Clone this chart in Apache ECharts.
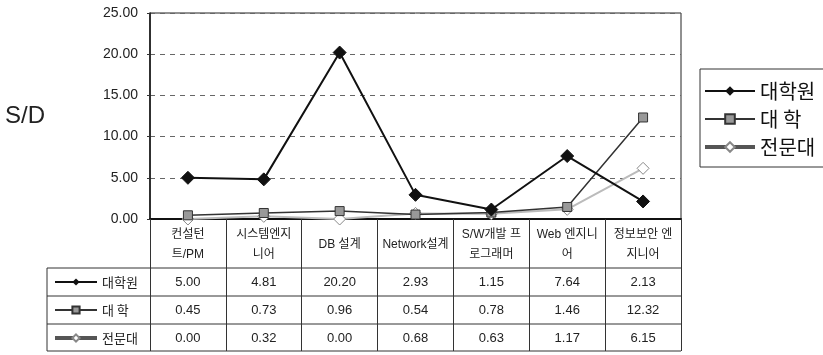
<!DOCTYPE html>
<html>
<head>
<meta charset="utf-8">
<script src="https://cdn.jsdelivr.net/npm/echarts@6/dist/echarts.min.js"></script>
<style>
  html, body { margin: 0; padding: 0; background: #fff; }
  #chart { width: 823px; height: 355px; }
</style>
</head>
<body>
<div id="chart"></div>
<script>
// Job categories (two-line header labels of the data table)
const categories = ['컨설턴\n트/PM', '시스템엔지\n니어', 'DB 설계', 'Network설계', 'S/W개발 프\n로그래머', 'Web 엔지니\n어', '정보보안 엔\n지니어'];
const seriesNames = ['대학원', '대 학', '전문대'];
const graduate   = [5.00, 4.81, 20.20, 2.93, 1.15, 7.64, 2.13];
const university = [0.45, 0.73, 0.96, 0.54, 0.78, 1.46, 12.32];
const college    = [0.00, 0.32, 0.00, 0.68, 0.63, 1.17, 6.15];
const yMin = 0, yMax = 25, yStep = 5;

const LATIN = '"Liberation Sans", Arial, "Noto Sans CJK KR", sans-serif';
const rows = [graduate, university, college];

const chart = echarts.init(document.getElementById('chart'), null, { renderer: 'canvas' });

// Base category axis: header labels, column separators of the table
const xAxes = [{
  type: 'category',
  data: categories,
  position: 'bottom',
  boundaryGap: true,
  axisLine: { show: true, lineStyle: { color: '#111', width: 2 } },
  axisTick: { show: true, interval: 0, length: 132, lineStyle: { color: '#333', width: 1 } },
  axisLabel: {
    interval: 0, margin: 26, verticalAlign: 'middle',
    fontSize: 12, lineHeight: 20, color: '#222', fontFamily: LATIN
  }
}];
// One hidden axis per table row, each printing that row's values under its category
const rowMargins = [63, 91, 119];
rows.forEach((vals, r) => {
  xAxes.push({
    type: 'category',
    data: categories,
    position: 'bottom',
    boundaryGap: true,
    axisLine: { show: false },
    axisTick: { show: false },
    axisLabel: {
      interval: 0, margin: rowMargins[r], verticalAlign: 'middle',
      fontSize: 13, color: '#222', fontFamily: LATIN,
      formatter: (v, i) => vals[i].toFixed(2)
    }
  });
});

const tableLeft = 47, tableRight = 681;
const rowLines = [268, 296, 324, 351];

chart.setOption({
  animation: false,
  grid: {
    left: 150, right: 142, top: 13, bottom: 136,
    containLabel: false,
    outerBoundsMode: 'none',
    show: true, borderColor: '#222', borderWidth: 1, backgroundColor: 'transparent'
  },
  xAxis: xAxes,
  yAxis: {
    type: 'value',
    min: yMin, max: yMax, interval: yStep,
    name: 'S/D',
    nameLocation: 'middle',
    nameRotate: 0,
    nameGap: 105,
    nameTextStyle: { fontSize: 24, color: '#222', fontFamily: LATIN },
    axisLine: { show: true, lineStyle: { color: '#111', width: 1.5 } },
    axisTick: { show: true, length: 3, lineStyle: { color: '#333' } },
    axisLabel: {
      margin: 12, fontSize: 14, color: '#222', fontFamily: LATIN,
      formatter: v => v.toFixed(2)
    },
    splitLine: { show: true, lineStyle: { color: '#666', width: 1, type: [5, 5] } }
  },
  legend: [{
    orient: 'vertical',
    left: 700, top: 69,
    padding: [11, 40, 9, 3],
    borderColor: '#333', borderWidth: 1,
    itemWidth: 50, itemHeight: 12, itemGap: 6,
    selectedMode: false,
    textStyle: { fontSize: 20, lineHeight: 22, color: '#111', fontFamily: '"Noto Sans CJK KR", sans-serif' },
    data: [
      { name: seriesNames[0] },
      { name: seriesNames[1] },
      { name: seriesNames[2], lineStyle: { color: '#555', width: 4 } }
    ]
  }, {
    orient: 'vertical',
    left: 53, top: 275,
    padding: 0,
    itemWidth: 42, itemHeight: 9, itemGap: 14,
    selectedMode: false,
    textStyle: { fontSize: 13, lineHeight: 14, color: '#222', fontFamily: '"Noto Sans CJK KR", sans-serif' },
    data: [
      { name: seriesNames[0] },
      { name: seriesNames[1] },
      { name: seriesNames[2], lineStyle: { color: '#555', width: 4 } }
    ]
  }],
  graphic: [
    // horizontal rules of the data table
    ...rowLines.map(y => ({
      type: 'line', silent: true,
      shape: { x1: tableLeft, y1: y, x2: tableRight, y2: y },
      style: { stroke: '#333', lineWidth: 1 }
    })),
    {
      type: 'line', silent: true,
      shape: { x1: tableLeft, y1: rowLines[0], x2: tableLeft, y2: rowLines[rowLines.length - 1] },
      style: { stroke: '#333', lineWidth: 1 }
    }
  ],
  series: [{
    name: seriesNames[0], type: 'line', xAxisIndex: 0, z: 5,
    data: graduate,
    symbol: 'diamond', symbolSize: 13,
    itemStyle: { color: '#111', borderColor: '#111' },
    lineStyle: { color: '#111', width: 2 }
  }, {
    name: seriesNames[1], type: 'line', xAxisIndex: 0, z: 4,
    data: university,
    symbol: 'rect', symbolSize: 9,
    itemStyle: { color: '#999', borderColor: '#333', borderWidth: 1 },
    lineStyle: { color: '#333', width: 1.5 }
  }, {
    name: seriesNames[2], type: 'line', xAxisIndex: 0, z: 3,
    data: college,
    symbol: 'diamond', symbolSize: 12,
    itemStyle: { color: '#fff', borderColor: '#888', borderWidth: 1 },
    lineStyle: { color: '#bbb', width: 2 }
  }]
});
</script>
</body>
</html>
